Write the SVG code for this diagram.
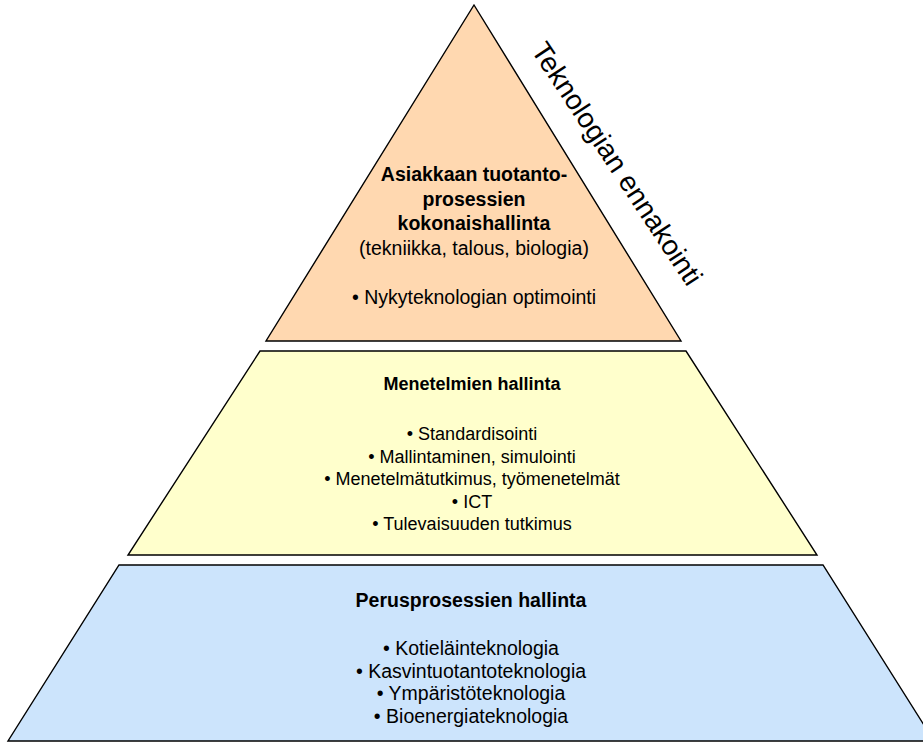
<svg xmlns="http://www.w3.org/2000/svg" width="923" height="742" viewBox="0 0 923 742">
  <style>
    .tier { stroke: #000; stroke-width: 1.4; stroke-linejoin: miter; }
    .t { font-family: "Liberation Sans", Arial, sans-serif; font-size: 19.5px; fill: #000; text-anchor: middle; }
    .s { font-size: 18px; }
    .b { font-weight: bold; }
  </style>
  <rect width="923" height="742" fill="#fff"/>

  <!-- top tier: triangle -->
  <g id="tier-top">
    <polygon class="tier" points="474,5 681,341 266,341" fill="#FFD8B0"/>
    <text class="t b" x="474" y="181">Asiakkaan tuotanto-</text>
    <text class="t b" x="474" y="205.5">prosessien</text>
    <text class="t b" x="474" y="230">kokonaishallinta</text>
    <text class="t" x="474" y="254.5">(tekniikka, talous, biologia)</text>
    <text class="t" x="474" y="304">• Nykyteknologian optimointi</text>
  </g>

  <!-- middle tier -->
  <g id="tier-middle">
    <polygon class="tier" points="260,351 686,351 817,555 128,555" fill="#FFFFCC"/>
    <text class="t s b" x="472" y="390">Menetelmien hallinta</text>
    <text class="t s" x="472" y="440">• Standardisointi</text>
    <text class="t s" x="472" y="462.5">• Mallintaminen, simulointi</text>
    <text class="t s" x="472" y="485">• Menetelmätutkimus, työmenetelmät</text>
    <text class="t s" x="472" y="507.5">• ICT</text>
    <text class="t s" x="472" y="530">• Tulevaisuuden tutkimus</text>
  </g>

  <!-- bottom tier -->
  <g id="tier-bottom">
    <polygon class="tier" points="119,565 823,565 934,741 8,741" fill="#CCE4FC"/>
    <text class="t b" x="471" y="607">Perusprosessien hallinta</text>
    <text class="t" x="471" y="655">• Kotieläinteknologia</text>
    <text class="t" x="471" y="677.5">• Kasvintuotantoteknologia</text>
    <text class="t" x="471" y="700">• Ympäristöteknologia</text>
    <text class="t" x="471" y="722.5">• Bioenergiateknologia</text>
  </g>

  <!-- side label along the slope of the top tier -->
  <g id="side-label">
    <text class="t" style="font-size:28px" transform="translate(609,169) rotate(56.5)" x="0" y="0">Teknologian ennakointi</text>
  </g>
</svg>
